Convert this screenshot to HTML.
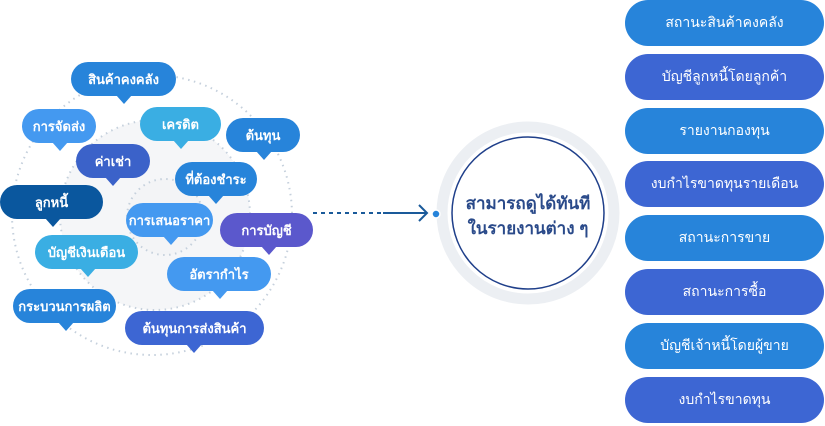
<!DOCTYPE html>
<html><head><meta charset="utf-8"><style>
html,body{margin:0;padding:0;background:#fff;}
body{width:825px;height:426px;position:relative;overflow:hidden;font-family:"Liberation Sans","Noto Sans CJK SC",sans-serif;}
.b{position:absolute;height:34px;border-radius:17px;color:#fff;font-size:13px;font-weight:bold;display:flex;align-items:center;justify-content:center;white-space:nowrap;}
.b i{position:absolute;top:33px;width:0;height:0;border-left:8px solid transparent;border-right:8px solid transparent;border-top:9px solid;margin-left:-8px;}
.p{position:absolute;left:625px;width:199px;height:46px;border-radius:23px;color:#fff;font-size:14px;display:flex;align-items:center;justify-content:center;}
.c1{background:#2784da;}.c2{background:#3d66d3;}
</style></head><body>
<svg width="825" height="426" style="position:absolute;left:0;top:0">
<circle cx="152" cy="215" r="140" fill="none" stroke="#c5d0dc" stroke-width="2" stroke-dasharray="1.5 4.5"/>
<circle cx="155" cy="215" r="95" fill="#f5f6f8" stroke="#c5d0dc" stroke-width="2" stroke-dasharray="1.5 4.5"/>
<circle cx="165" cy="217" r="38" fill="#f3f4f6" stroke="#c5d0dc" stroke-width="2" stroke-dasharray="1.5 4.5"/>
<line x1="313" y1="213" x2="383" y2="213" stroke="#1a5a9a" stroke-width="2" stroke-dasharray="4 4"/>
<line x1="383" y1="213" x2="427" y2="213" stroke="#1a5a9a" stroke-width="2"/>
<polyline points="419,205 427,213 419,221" fill="none" stroke="#1a5a9a" stroke-width="2"/>
<circle cx="528" cy="213" r="86" fill="#fff" stroke="#eceff3" stroke-width="11"/>
<circle cx="528" cy="213" r="76" fill="#fff" stroke="#1f3f8a" stroke-width="1.5"/>
<circle cx="436" cy="214" r="4" fill="#2784da" stroke="#fff" stroke-width="1.5"/>
<text x="528" y="209" text-anchor="middle" font-size="17" font-weight="bold" fill="#2a4a8a" font-family="Liberation Sans, Noto Sans CJK SC, sans-serif">สามารถดูได้ทันที</text>
<text x="528" y="234" text-anchor="middle" font-size="17" font-weight="bold" fill="#2a4a8a" font-family="Liberation Sans, Noto Sans CJK SC, sans-serif">ในรายงานต่าง ๆ</text>
</svg>

<div class="b" style="left:71px;top:62px;width:105px;background:#2784da">สินค้าคงคลัง<i style="left:53px;color:#2784da"></i></div>
<div class="b" style="left:22px;top:109px;width:74px;background:#4499f0">การจัดส่ง<i style="left:38px;color:#4499f0"></i></div>
<div class="b" style="left:140px;top:107px;width:81px;background:#3aaee3">เครดิต<i style="left:41px;color:#3aaee3"></i></div>
<div class="b" style="left:226px;top:118px;width:74px;background:#2784da">ต้นทุน<i style="left:38px;color:#2784da"></i></div>
<div class="b" style="left:76px;top:144px;width:74px;background:#3b62c9">ค่าเช่า<i style="left:37px;color:#3b62c9"></i></div>
<div class="b" style="left:175px;top:162px;width:82px;background:#2784da">ที่ต้องชำระ<i style="left:41px;color:#2784da"></i></div>
<div class="b" style="left:0px;top:185px;width:103px;background:#0a579e">ลูกหนี้<i style="left:53px;color:#0a579e"></i></div>
<div class="b" style="left:126px;top:203px;width:87px;background:#4499f0">การเสนอราคา<i style="left:45px;color:#4499f0"></i></div>
<div class="b" style="left:220px;top:213px;width:93px;background:#5b58cc">การบัญชี<i style="left:49px;color:#5b58cc"></i></div>
<div class="b" style="left:35px;top:235px;width:103px;background:#3aaee3">บัญชีเงินเดือน<i style="left:53px;color:#3aaee3"></i></div>
<div class="b" style="left:167px;top:257px;width:104px;background:#4499f0">อัตรากำไร<i style="left:53px;color:#4499f0"></i></div>
<div class="b" style="left:13px;top:289px;width:103px;background:#2784da">กระบวนการผลิต<i style="left:53px;color:#2784da"></i></div>
<div class="b" style="left:125px;top:311px;width:139px;background:#3d66d3">ต้นทุนการส่งสินค้า<i style="left:69px;color:#3d66d3"></i></div>

<div class="p c1" style="top:0px">สถานะสินค้าคงคลัง</div>
<div class="p c2" style="top:54px">บัญชีลูกหนี้โดยลูกค้า</div>
<div class="p c1" style="top:108px">รายงานกองทุน</div>
<div class="p c2" style="top:161px">งบกำไรขาดทุนรายเดือน</div>
<div class="p c1" style="top:215px">สถานะการขาย</div>
<div class="p c2" style="top:269px">สถานะการซื้อ</div>
<div class="p c1" style="top:323px">บัญชีเจ้าหนี้โดยผู้ขาย</div>
<div class="p c2" style="top:377px">งบกำไรขาดทุน</div>
</body></html>
